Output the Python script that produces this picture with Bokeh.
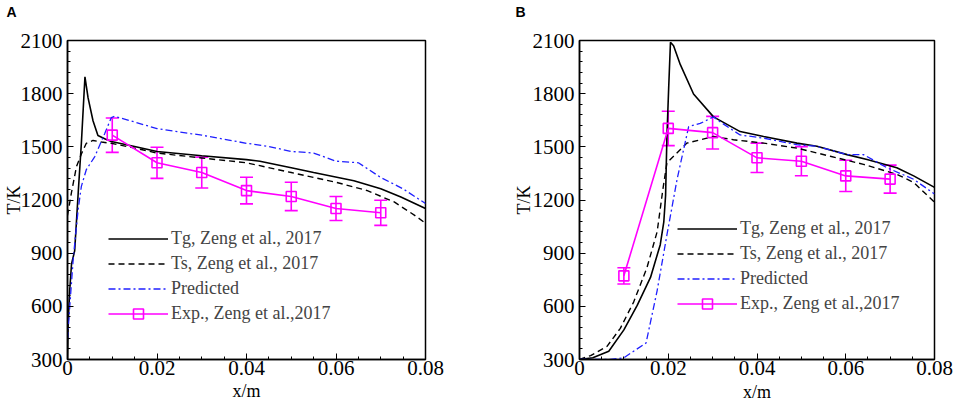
from bokeh.plotting import figure
from bokeh.layouts import row
from bokeh.models import (ColumnDataSource, FixedTicker, Legend, LegendItem,
                          Whisker, TeeHead, Range1d, Title)
from bokeh.embed import file_html
from bokeh.resources import INLINE

# ---------------- data: panel A ----------------
tgA_x = [0, 0.00015, 0.0005, 0.0009, 0.0016, 0.0024, 0.0031, 0.0039, 0.0046, 0.0057, 0.0068,
         0.0083, 0.0098, 0.015, 0.020, 0.030, 0.040, 0.043, 0.050, 0.055, 0.064, 0.070, 0.0745, 0.080]
tgA_T = [300, 506, 692, 839, 913, 1244, 1520, 1895, 1776, 1647, 1564,
         1546, 1530, 1502, 1474, 1450, 1428, 1419, 1382, 1355, 1309, 1263, 1217, 1152]

tsA_x = [0, 0.0009, 0.002, 0.0031, 0.0042, 0.0057, 0.0076, 0.0098, 0.015, 0.020, 0.030,
         0.040, 0.050, 0.060, 0.067, 0.073, 0.0775, 0.080]
tsA_T = [1113, 1244, 1388, 1460, 1520, 1536, 1527, 1520, 1493, 1465, 1437,
         1410, 1355, 1300, 1253, 1189, 1115, 1069]

prA_x = [0, 0.0005, 0.0013, 0.0024, 0.0031, 0.0042, 0.0061, 0.0083, 0.0098, 0.0105, 0.015,
         0.020, 0.0275, 0.030, 0.040, 0.045, 0.050, 0.055, 0.060, 0.065, 0.070, 0.075, 0.080]
prA_T = [415, 598, 874, 1150, 1277, 1371, 1445, 1574, 1665, 1672, 1640,
         1603, 1575, 1566, 1520, 1502, 1474, 1465, 1419, 1410, 1327, 1263, 1180]

expA_x = [0.01, 0.02, 0.03, 0.04, 0.05, 0.06, 0.07]
expA_T = [1566, 1410, 1355, 1253, 1220, 1152, 1128]
expA_err = [97, 88, 87, 75, 80, 68, 71]

# ---------------- data: panel B ----------------
tgB_x = [0, 0.003, 0.0066, 0.010, 0.013, 0.016, 0.0182, 0.019, 0.0194, 0.0197, 0.0201, 0.0205,
         0.0212, 0.0227, 0.0257, 0.0302, 0.0362, 0.0415, 0.049, 0.0535, 0.0603, 0.0648, 0.0715,
         0.0753, 0.080]
tgB_T = [300, 310, 347, 467, 605, 763, 948, 1077, 1225, 1558, 1835, 2090,
         2070, 1965, 1798, 1669, 1586, 1558, 1521, 1503, 1456, 1428, 1382,
         1336, 1271]

tsB_x = [0, 0.0025, 0.0062, 0.0092, 0.0122, 0.0152, 0.0175, 0.0188, 0.0197, 0.0212, 0.0242,
         0.0287, 0.0302, 0.0347, 0.0415, 0.049, 0.0565, 0.064, 0.0715, 0.0753, 0.080]
tsB_T = [300, 322, 374, 476, 624, 818, 1021, 1262, 1410, 1447, 1521,
         1549, 1558, 1540, 1521, 1493, 1447, 1401, 1345, 1299, 1188]

prB_x = [0, 0.007, 0.010, 0.015, 0.0175, 0.0197, 0.022, 0.0246, 0.0272, 0.0302, 0.0317, 0.0362,
         0.0415, 0.049, 0.0535, 0.0603, 0.064, 0.0693, 0.0753, 0.080]
prB_T = [300, 300, 310, 393, 689, 1003, 1318, 1614, 1632, 1669, 1641, 1567,
         1549, 1512, 1503, 1456, 1456, 1382, 1317, 1234]

expB_x = [0.01, 0.02, 0.03, 0.04, 0.05, 0.06, 0.07]
expB_T = [772, 1604, 1580, 1438, 1419, 1336, 1318]
expB_err = [46, 97, 92, 83, 82, 88, 79]

# ---------------- ticks / labels ----------------
x_ticks = [0, 0.02, 0.04, 0.06, 0.08]
x_tick_labels = ["0", "0.02", "0.04", "0.06", "0.08"]
y_ticks = [300, 600, 900, 1200, 1500, 1800, 2100]
legend_labels = ["Tg, Zeng et al., 2017", "Ts, Zeng et al., 2017", "Predicted",
                 "Exp., Zeng et al.,2017"]
x_label = "x/m"
y_label = "T/K"

SERIF = "Liberation Serif"
MAGENTA = "#ff00ff"
BLUE = "#1f1fff"


def make_panel(width, borders, tg, ts, pr, ex, panel_letter, letter_pos, legend_loc, label_standoffs):
    bl, br, bt, bb = borders
    p = figure(width=width, height=404, output_backend="svg", toolbar_location=None,
               x_range=Range1d(0, 0.08), y_range=Range1d(300, 2100),
               min_border_left=bl, min_border_right=br, min_border_top=bt,
               min_border_bottom=bb)
    p.grid.visible = False
    p.outline_line_color = "black"
    p.outline_line_width = 1.5
    p.background_fill_color = "white"
    p.border_fill_color = "white"

    minor_x = [i * 0.005 for i in range(17)]
    minor_y = [300 + 60 * i for i in range(31)]
    p.xaxis.ticker = FixedTicker(ticks=x_ticks, minor_ticks=minor_x)
    p.yaxis.ticker = FixedTicker(ticks=y_ticks, minor_ticks=minor_y)
    p.xaxis.major_label_overrides = {t: s for t, s in zip(x_ticks, x_tick_labels)}
    for ax in (p.xaxis, p.yaxis):
        ax.major_tick_in = 6
        ax.major_tick_out = 0
        ax.minor_tick_in = 3
        ax.minor_tick_out = 0
        ax.axis_line_color = "black"
        ax.axis_line_width = 1.5
        ax.major_tick_line_color = "black"
        ax.minor_tick_line_color = "black"
        ax.major_label_text_font = SERIF
        ax.major_label_text_font_size = "21px"
        ax.major_label_text_color = "black"
        ax.axis_label_text_font = SERIF
        ax.axis_label_text_font_size = "18px"
        ax.axis_label_text_font_style = "normal"
        ax.axis_label_text_color = "black"
    p.xaxis.major_label_standoff = 1
    p.yaxis.major_label_standoff = 5
    p.xaxis.axis_label = x_label
    p.yaxis.axis_label = y_label
    p.xaxis.axis_label_standoff = label_standoffs[0]
    p.yaxis.axis_label_standoff = label_standoffs[1]

    # panel letter (outer) and spacer title (next to frame)
    p.title.text = panel_letter
    p.title.align = "left"
    p.title.offset = letter_pos[0]
    p.title.standoff = 2
    p.title.text_font = "Liberation Sans"
    p.title.text_font_style = "bold"
    p.title.text_font_size = "14px"
    p.title.text_color = "black"
    p.add_layout(Title(text=" ", text_font_size="1px", standoff=letter_pos[1]), "above")

    r_tg = p.line(tg[0], tg[1], line_color="black", line_width=1.6)
    r_ts = p.line(ts[0], ts[1], line_color="black", line_width=1.4, line_dash="6 4")
    r_pr = p.line(pr[0], pr[1], line_color=BLUE, line_width=1.3, line_dash="7 3 2 3")

    src = ColumnDataSource(dict(x=ex[0], y=ex[1],
                                lo=[v - e for v, e in zip(ex[1], ex[2])],
                                hi=[v + e for v, e in zip(ex[1], ex[2])]))
    wh = Whisker(source=src, base="x", upper="hi", lower="lo", dimension="height",
                 line_color=MAGENTA, line_width=1.6,
                 upper_head=TeeHead(size=13, line_color=MAGENTA, line_width=1.6),
                 lower_head=TeeHead(size=13, line_color=MAGENTA, line_width=1.6))
    p.add_layout(wh)
    r_ex = p.line("x", "y", source=src, line_color=MAGENTA, line_width=1.6)
    r_exs = p.scatter("x", "y", source=src, marker="square", size=10,
                      fill_color=None, line_color=MAGENTA, line_width=1.6)

    legend = Legend(items=[LegendItem(label=legend_labels[0], renderers=[r_tg]),
                           LegendItem(label=legend_labels[1], renderers=[r_ts]),
                           LegendItem(label=legend_labels[2], renderers=[r_pr]),
                           LegendItem(label=legend_labels[3], renderers=[r_ex, r_exs])],
                    location=legend_loc, glyph_width=60, glyph_height=25, label_height=25,
                    spacing=0, padding=0, margin=0, border_line_color=None,
                    background_fill_alpha=0, label_standoff=3,
                    label_text_font=SERIF, label_text_font_size="18px")
    p.add_layout(legend, "center")
    return p


pA = make_panel(480, (66, 55, 38, 40), (tgA_x, tgA_T), (tsA_x, tsA_T), (prA_x, prA_T),
                (expA_x, expA_T, expA_err), "A", (-61, 17), (41, 33), (3, -6))
pB = make_panel(477, (99, 23, 36, 44), (tgB_x, tgB_T), (tsB_x, tsB_T), (prB_x, prB_T),
                (expB_x, expB_T, expB_err), "B", (-64, 17), (98, 43), (4, -4))

layout = row(pA, pB)
open("out.html", "w").write(file_html(layout, INLINE))
